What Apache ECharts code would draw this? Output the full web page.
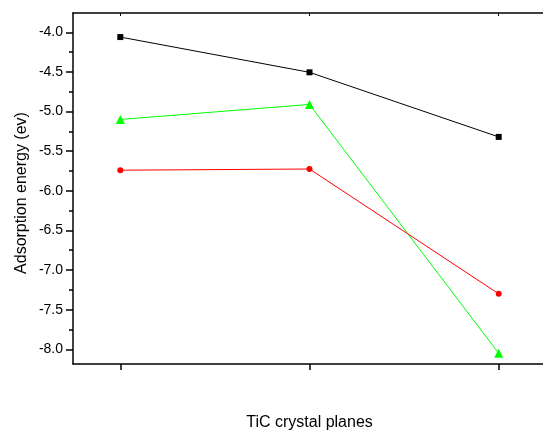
<!DOCTYPE html>
<html>
<head>
<meta charset="utf-8">
<script src="https://cdn.jsdelivr.net/npm/echarts@6/dist/echarts.min.js"></script>
<style>
  html, body { margin: 0; padding: 0; background: #fff; }
  #chart { width: 543px; height: 430px; }
</style>
</head>
<body>
<div id="chart"></div>
<script>
// crystal planes (x positions) and adsorption energies (eV)
var planes = [1, 2, 3];
var blackVals = [-4.06, -4.505, -5.32];
var greenVals = [-5.10, -4.91, -8.05];
var redVals = [-5.74, -5.725, -7.30];
var majorTicks = [-8.0, -7.5, -7.0, -6.5, -6.0, -5.5, -5.0, -4.5, -4.0];
var minorTicks = [-7.75, -7.25, -6.75, -6.25, -5.75, -5.25, -4.75, -4.25, -3.75];

function pairs(vals) {
  return planes.map(function (p, i) { return [p, vals[i]]; });
}

var myChart = echarts.init(document.getElementById('chart'));
var font = 'Liberation Sans, Arial, sans-serif';
var yMin = -8.1855, yMax = -3.7565;
var xMin = 0.75, xMax = 3.25;

myChart.setOption({
  animation: false,
  // plot box runs a little past the right edge, don't let echarts shrink it
  grid: { left: 73, top: 13, width: 473, height: 351, show: false, outerBoundsMode: 'none' },
  xAxis: [{
    type: 'value', min: xMin, max: xMax, position: 'bottom',
    name: 'TiC crystal planes', nameLocation: 'middle', nameGap: 51,
    nameTextStyle: { fontFamily: font, fontSize: 16, color: '#000' },
    axisLine: { lineStyle: { color: '#000', width: 1.5 } },
    axisTick: { show: true, length: 6, customValues: planes, lineStyle: { color: '#000', width: 1.5 } },
    axisLabel: { show: false },
    splitLine: { show: false }
  }, {
    type: 'value', min: xMin, max: xMax, position: 'top',
    axisLine: { lineStyle: { color: '#000', width: 1.5 } },
    axisTick: { show: true, inside: true, length: 3, customValues: planes, lineStyle: { color: '#000' } },
    axisLabel: { show: false },
    splitLine: { show: false }
  }],
  yAxis: [{
    type: 'value', min: yMin, max: yMax, position: 'left',
    name: 'Adsorption energy (ev)', nameLocation: 'middle', nameGap: 43, nameRotate: 90,
    nameMoveOverlap: false,
    nameTextStyle: { fontFamily: font, fontSize: 16, color: '#000', padding: [0, 9, 0, 0] },
    axisLine: { show: true, lineStyle: { color: '#000', width: 1.5 } },
    axisTick: { show: true, length: 7, customValues: majorTicks, lineStyle: { color: '#000', width: 1.5 } },
    axisLabel: {
      customValues: majorTicks, margin: 10, fontFamily: font, fontSize: 14, color: '#000',
      formatter: function (v) { return v.toFixed(1); }
    },
    splitLine: { show: false }
  }, {
    type: 'value', min: yMin, max: yMax, position: 'left',
    axisLine: { show: false },
    axisTick: { show: true, length: 4, customValues: minorTicks, lineStyle: { color: '#000', width: 1.5 } },
    axisLabel: { show: false },
    splitLine: { show: false }
  }],
  series: [{
    type: 'line', data: pairs(blackVals), symbol: 'rect', symbolSize: 6,
    lineStyle: { color: '#000', width: 1 }, itemStyle: { color: '#000' }
  }, {
    type: 'line', data: pairs(greenVals), symbol: 'triangle', symbolSize: 9,
    lineStyle: { color: '#00ff00', width: 1 }, itemStyle: { color: '#00ff00' }
  }, {
    type: 'line', data: pairs(redVals), symbol: 'circle', symbolSize: 6,
    lineStyle: { color: '#ff0000', width: 1 }, itemStyle: { color: '#ff0000' }
  }]
});
</script>
</body>
</html>
